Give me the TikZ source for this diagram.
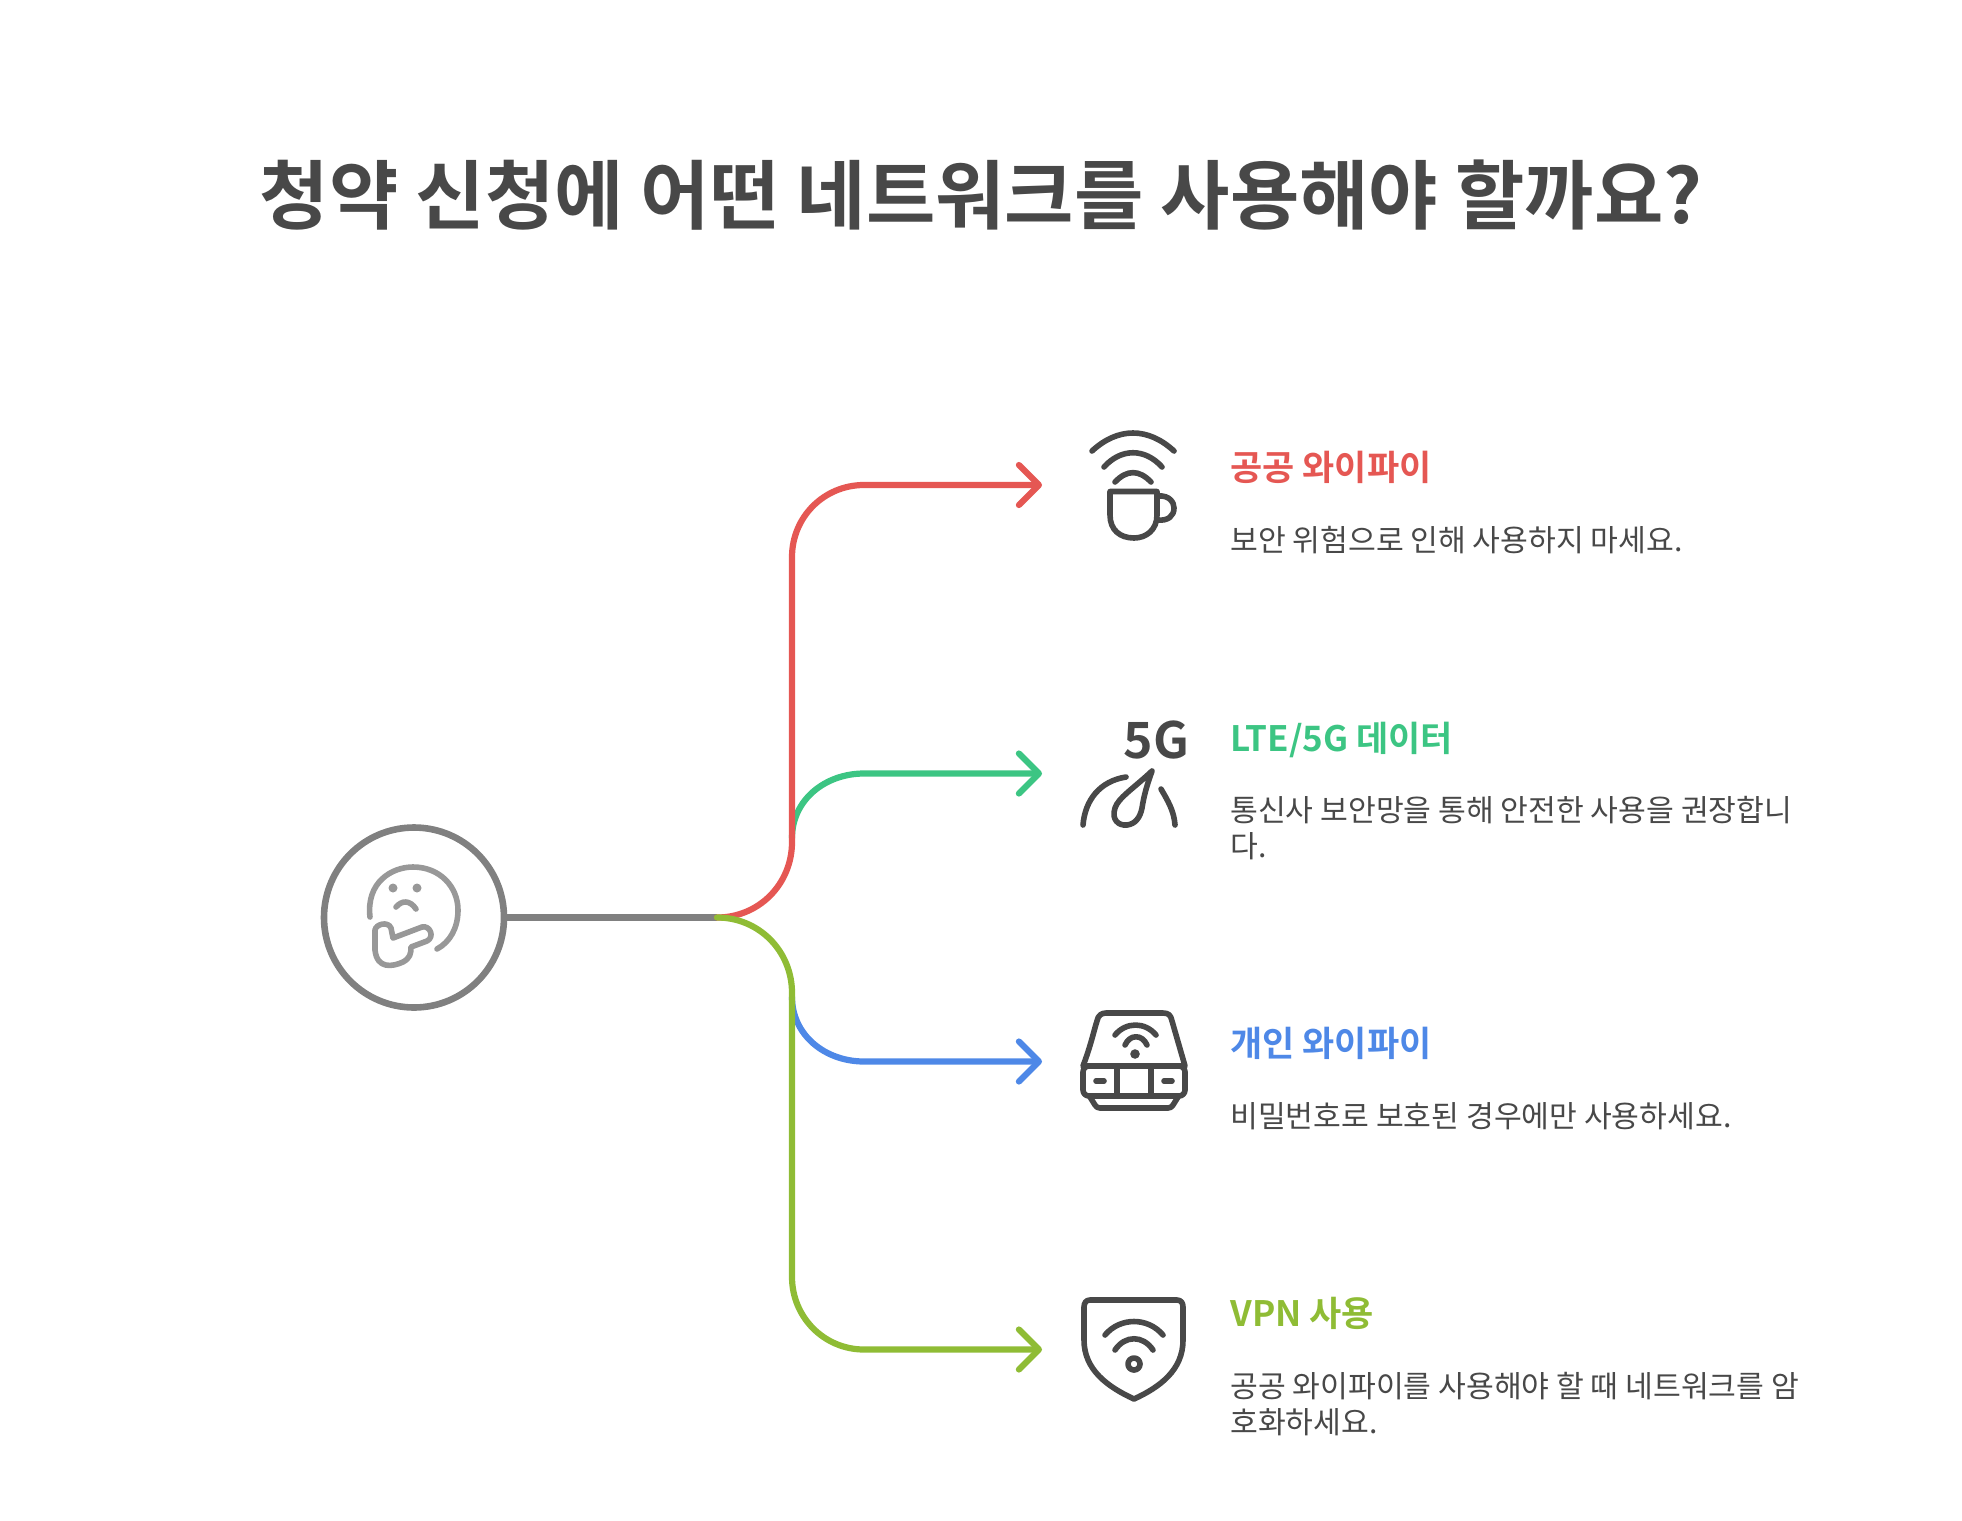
\documentclass[tikz,border=0pt]{standalone}
\usepackage{fontspec}
\setmainfont{Noto Sans CJK KR}
\newfontfamily\krbold{Noto Sans CJK KR Bold}
\usetikzlibrary{arrows.meta}
\definecolor{cred}{HTML}{E55753}
\definecolor{cgreen}{HTML}{3CC583}
\definecolor{cblue}{HTML}{4E88E7}
\definecolor{clime}{HTML}{8FBC35}
\definecolor{cgrey}{HTML}{808080}
\definecolor{cface}{HTML}{989898}
\definecolor{cdark}{HTML}{484848}
\tikzset{
  conn/.style={line width=3.1pt,line cap=round,line join=round,-{Straight Barb[length=10pt,width=20pt,line width=3.1pt,line cap=round,round]}},
  icon/.style={draw=cdark,line width=2.8pt,line cap=round,line join=round},
  face/.style={draw=cface,line width=2.8pt,line cap=round,line join=round},
  head/.style={anchor=base west,inner sep=0pt,font=\krbold\fontsize{17.5}{21}\selectfont},
  desc/.style={anchor=base west,inner sep=0pt,text=cdark,font=\fontsize{15.1}{18}\selectfont},
}
\begin{document}
\begin{tikzpicture}[x=0.5pt,y=-0.5pt]
\useasboundingbox (0,0) rectangle (1962,1520);
\node[anchor=center,inner sep=0pt,text=cdark,font=\krbold\fontsize{37.7}{40}\selectfont] (title) at (981,195) {청약 신청에 어떤 네트워크를 사용해야 할까요?};
\node[circle,draw=cgrey,line width=3.3pt,minimum size=90pt,inner sep=0pt] (hub) at (414,917.5) {};
\coordinate (j) at (717,917.5);
\coordinate (e1) at (1042,485);
\coordinate (e2) at (1042,773.5);
\coordinate (e3) at (1042,1061.5);
\coordinate (e4) at (1042,1349.5);
\draw[cgrey,line width=3.1pt] (hub.east) -- (j);
\draw[conn,cgreen] (792,838) .. controls (792,800) and (825,773.5) .. (864,773.5) -- (e2);
\draw[conn,cblue] (792,997) .. controls (792,1035) and (825,1061.5) .. (864,1061.5) -- (e3);
\draw[conn,cred] (j) .. controls (759,917.5) and (792,884) .. (792,842) -- (792,557) .. controls (792,517) and (824,485) .. (864,485) -- (e1);
\draw[conn,clime] (j) .. controls (759,917.5) and (792,951) .. (792,993) -- (792,1277) .. controls (792,1317) and (824,1349.5) .. (864,1349.5) -- (e4);

% face
\fill[cface] (393,888) circle (4.5) (417,888) circle (4.5);
\draw[face] (370,917) .. controls (366,882) and (392,867) .. (413,867) .. controls (440,867) and (458,887) .. (458,910) .. controls (458,928) and (450,942) .. (437,949);
\draw[face] (396,907) .. controls (402,900) and (410,900) .. (416,909);
\draw[face] (375,930) .. controls (376,924) and (388,921) .. (391,928) -- (393,938) -- (422,927) .. controls (430,925) and (435,937) .. (427,941) -- (411,947) .. controls (411,954) and (410,958) .. (403,962) .. controls (392,967) and (377,969) .. (375,950) -- cycle;

% wifi cup
\draw[icon] (1092,451) .. controls (1118,427) and (1148,427) .. (1174,451);
\draw[icon] (1104,467) .. controls (1121,448) and (1145,448) .. (1162,467);
\draw[icon] (1115,482) .. controls (1127,469.5) and (1139,469.5) .. (1151,482);
\draw[icon] (1110,491.5) -- (1157,491.5) -- (1157,515) .. controls (1157,530) and (1146,538) .. (1134,538) .. controls (1120,538) and (1110,530) .. (1110,515) -- cycle;
\draw[icon] (1158,496) .. controls (1170,495) and (1174,503) .. (1174,508) .. controls (1174,516) and (1168,521) .. (1158,520);

% 5G
\node[inner sep=0pt,text=cdark,font=\krbold\fontsize{25}{25}\selectfont] (fiveg) at (1156.5,740) {5G};
\draw[icon] (1083,825) .. controls (1085,800) and (1100,781) .. (1126,777);
\draw[icon] (1175,825) .. controls (1174,811) and (1168,801) .. (1161,789);
\draw[icon] (1152,771) .. controls (1134,788) and (1118,798) .. (1115,808) .. controls (1111,820) and (1119,826) .. (1127,825) .. controls (1135,824) and (1140,818) .. (1142,808) .. controls (1144,795) and (1147,785) .. (1152,771) -- cycle;

% router
\draw[icon] (1083,1066) .. controls (1091,1045) and (1094,1030) .. (1097,1021) .. controls (1098,1015) and (1102,1013) .. (1106,1013) -- (1163,1013) .. controls (1168,1013) and (1171,1015) .. (1172,1021) -- (1185,1066) -- cycle;
\draw[icon,rounded corners=3pt] (1083,1066) rectangle (1185,1096);
\draw[icon] (1117,1067) -- (1117,1095) (1151,1067) -- (1151,1095);
\draw[icon] (1096,1081) -- (1104,1081) (1164,1081) -- (1172,1081);
\draw[icon] (1090,1097) -- (1095,1105) .. controls (1096,1107) and (1098,1108) .. (1100,1108) -- (1168,1108) .. controls (1170,1108) and (1172,1107) .. (1173,1105) -- (1178,1097);
\draw[icon] (1115,1035) .. controls (1126,1021.7) and (1145,1021.7) .. (1156,1035);
\draw[icon] (1125,1045) .. controls (1130,1034) and (1142,1034) .. (1147,1045);
\fill[cdark] (1135,1054) circle (4.8);

% shield
\draw[icon] (1090,1300) -- (1177,1300) .. controls (1181,1300) and (1183,1303) .. (1183,1307) -- (1183,1340) .. controls (1183,1370) and (1160,1387) .. (1134,1399) .. controls (1108,1387) and (1084,1370) .. (1084,1340) -- (1084,1307) .. controls (1084,1303) and (1086,1300) .. (1090,1300) -- cycle;
\draw[icon] (1105,1335) .. controls (1120,1317) and (1148,1317) .. (1163,1335);
\draw[icon] (1115,1350) .. controls (1125,1335) and (1143,1335) .. (1153,1350);
\draw[icon] (1134,1364) circle (6);

% labels
\node[head,text=cred] (t1) at (1230,480) {공공 와이파이};
\node[desc] (d1) at (1230,551) {보안 위험으로 인해 사용하지 마세요.};
\node[head,text=cgreen] (t2) at (1230,751) {LTE/5G 데이터};
\node[desc] (d2a) at (1230,821) {통신사 보안망을 통해 안전한 사용을 권장합니};
\node[desc] (d2b) at (1230,857) {다.};
\node[head,text=cblue] (t3) at (1230,1056) {개인 와이파이};
\node[desc] (d3) at (1230,1127) {비밀번호로 보호된 경우에만 사용하세요.};
\node[head,text=clime] (t4) at (1230,1326) {VPN 사용};
\node[desc] (d4a) at (1230,1397) {공공 와이파이를 사용해야 할 때 네트워크를 암};
\node[desc] (d4b) at (1230,1433) {호화하세요.};
\end{tikzpicture}
\end{document}
